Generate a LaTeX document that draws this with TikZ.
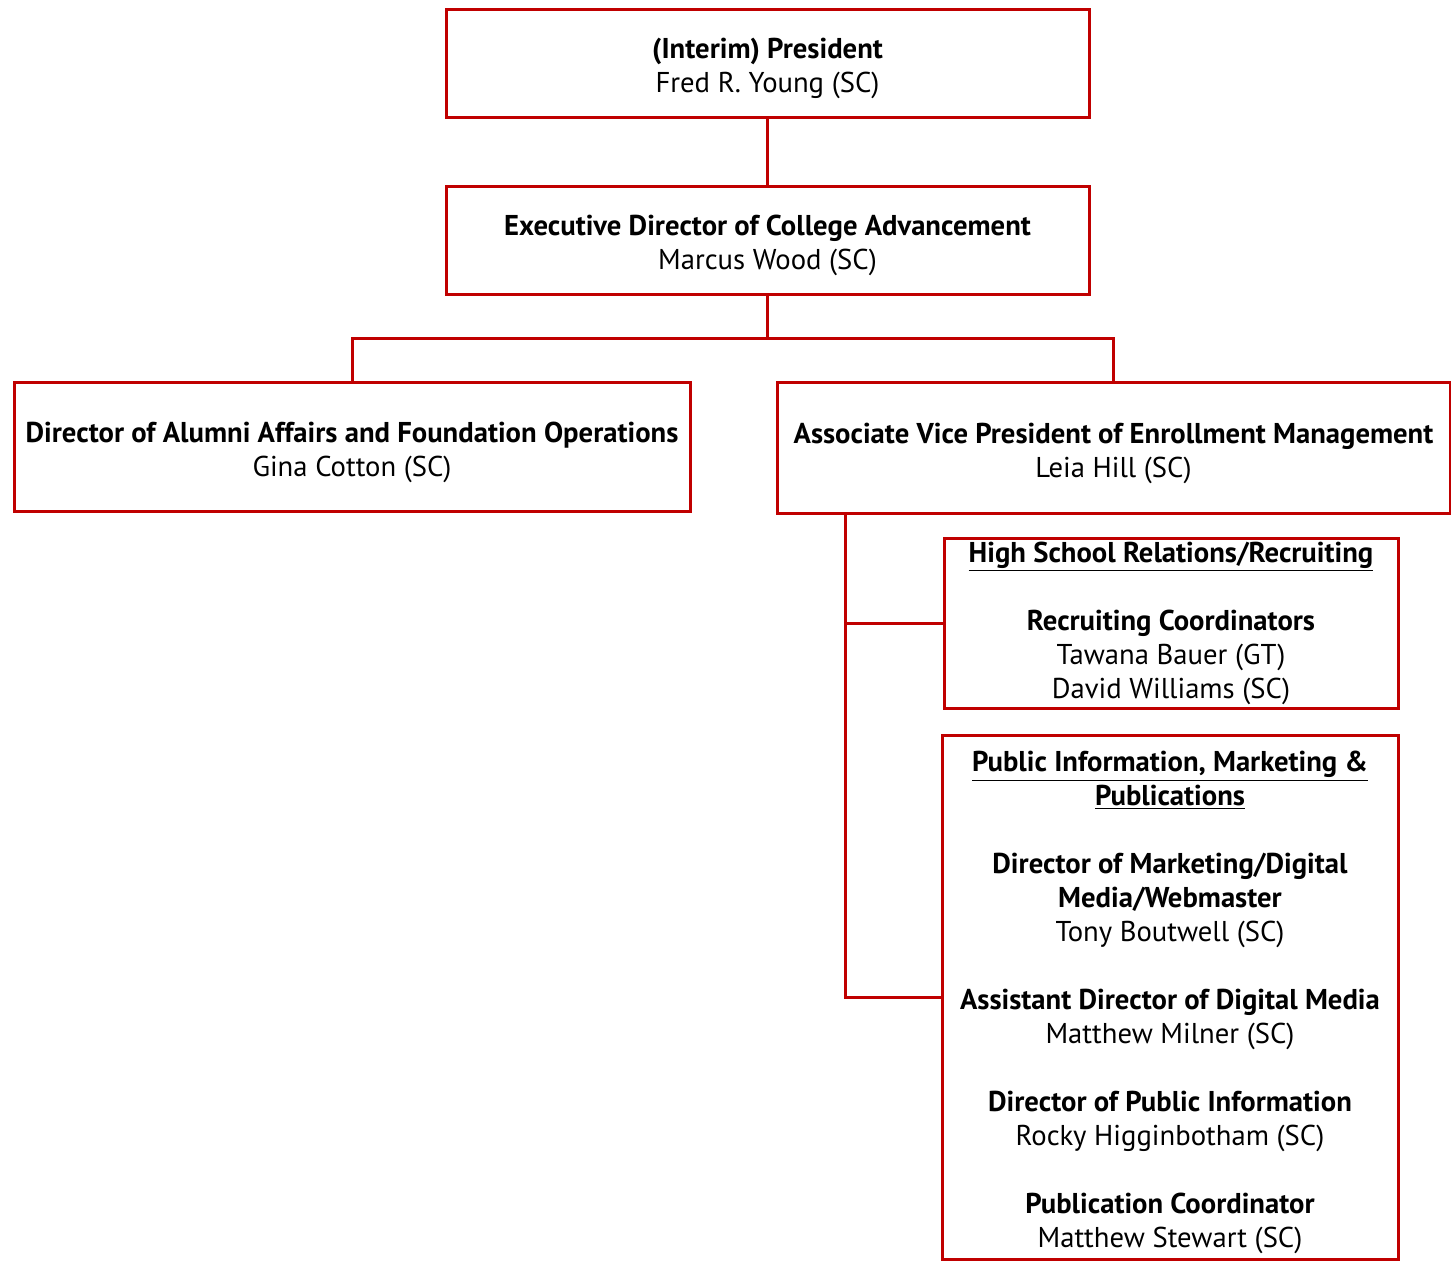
\documentclass[tikz,border=0pt]{standalone}
\usepackage{fontspec}
\setmainfont{PT Sans}
\definecolor{orgred}{RGB}{192,0,0}
\tikzset{every picture/.style={line width=2.25pt}}
\tikzset{
  orgbox/.style={draw=orgred, align=center, inner sep=0pt, font=\fontsize{21.5}{25.5}\selectfont},
  orgline/.style={draw=orgred}
}
\newcommand{\topgap}{\rule{0pt}{24pt}}
\newcommand{\ttl}[1]{\textbf{#1}}
\newcommand{\hdr}[1]{\underline{\textbf{#1}}}

\begin{document}
\begin{tikzpicture}[x=0.75pt,y=0.75pt,yscale=-1,xscale=1]
\useasboundingbox (0,0) rectangle (1451,1261);

%Shape: Rectangle [id:pres] 
\node (pres) at (767.5,63) [orgbox, minimum width=482.25pt, minimum height=81pt] {\topgap\ttl{(Interim) President}\\Fred R. Young (SC)};
%Shape: Rectangle [id:exec] 
\node (exec) at (767.5,240) [orgbox, minimum width=482.25pt, minimum height=81pt] {\topgap\ttl{Executive Director of College Advancement}\\Marcus Wood (SC)};
%Shape: Rectangle [id:alum] 
\node (alum) at (352,446.5) [orgbox, minimum width=507pt, minimum height=96.75pt] {\topgap\ttl{Director of Alumni Affairs and Foundation Operations}\\Gina Cotton (SC)};
%Shape: Rectangle [id:avp] 
\node (avp) at (1113.5,447.5) [orgbox, minimum width=504.75pt, minimum height=98.25pt] {\topgap\ttl{Associate Vice President of Enrollment Management}\\Leia Hill (SC)};
%Shape: Rectangle [id:hs] 
\node (hs) at (1171,623) [orgbox, minimum width=340.5pt, minimum height=127.5pt] {\hdr{High School Relations/Recruiting}\\[25.5pt]
  \ttl{Recruiting Coordinators}\\Tawana Bauer (GT)\\David Williams (SC)};
%Shape: Rectangle [id:pi] 
\node (pi) at (1170,997) [orgbox, minimum width=342pt, minimum height=393pt] {\topgap\hdr{Public Information, Marketing \&}\\\hdr{Publications}\\[25.5pt]
  \ttl{Director of Marketing/Digital}\\\ttl{Media/Webmaster}\\Tony Boutwell (SC)\\[25.5pt]
  \ttl{Assistant Director of Digital Media}\\Matthew Milner (SC)\\[25.5pt]
  \ttl{Director of Public Information}\\Rocky Higginbotham (SC)\\[25.5pt]
  \ttl{Publication Coordinator}\\Matthew Stewart (SC)};

% Connectors
\coordinate (split) at (767.5,338);
\coordinate (spine) at (845,513);
\draw [orgline] (pres.south) -- (exec.north);
\draw [orgline] (exec.south) -- (split) -| (alum.north);
\draw [orgline] (split) -| (avp.north);
\draw [orgline] (spine) |- (pi.west);
\draw [orgline] (spine |- hs.west) -- (hs.west);

\end{tikzpicture}
\end{document}
